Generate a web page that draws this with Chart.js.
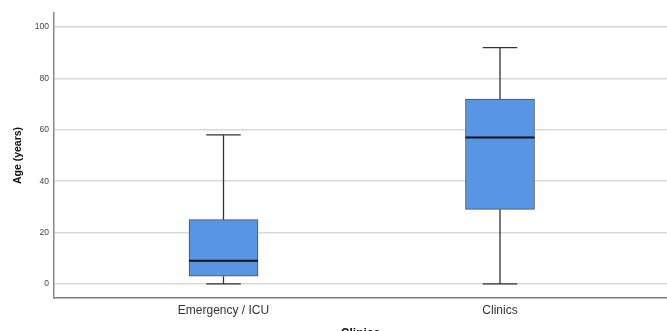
<!DOCTYPE html>
<html>
<head>
<meta charset="utf-8">
<script src="https://cdn.jsdelivr.net/npm/chart.js@4"></script>
<style>
  html, body { margin: 0; padding: 0; background: #fff; overflow: hidden; }
  #wrap { position: relative; width: 667px; height: 343px; }
</style>
</head>
<body>
<div id="wrap"><canvas id="boxChart"></canvas></div>
<script>
// Data
const groups = ["Emergency / ICU", "Clinics"];
const groupPos = [1, 2];
const mins = [0, 0];
const q1s = [3, 29];
const medians = [9, 57];
const q3s = [25, 72];
const maxes = [58, 92];
const yTicks = [0, 20, 40, 60, 80, 100];

// Whiskers and median lines, drawn through the chart's scales
const boxExtras = {
  id: "boxExtras",
  afterDatasetsDraw(chart) {
    const ctx = chart.ctx;
    const xs = chart.scales.x;
    const ys = chart.scales.y;
    const meta = chart.getDatasetMeta(0);
    ctx.save();
    groupPos.forEach((pos, i) => {
      const bar = meta.data[i];
      const cx = xs.getPixelForValue(pos);
      const half = bar.width / 2;
      const cap = bar.width / 4;
      const yMin = ys.getPixelForValue(mins[i]);
      const yQ1 = ys.getPixelForValue(q1s[i]);
      const yMed = ys.getPixelForValue(medians[i]);
      const yQ3 = ys.getPixelForValue(q3s[i]);
      const yMax = ys.getPixelForValue(maxes[i]);

      // whiskers
      ctx.strokeStyle = "#333";
      ctx.lineWidth = 1.3;
      ctx.beginPath();
      ctx.moveTo(cx, yQ3); ctx.lineTo(cx, yMax);
      ctx.moveTo(cx - cap, yMax); ctx.lineTo(cx + cap, yMax);
      ctx.moveTo(cx, yQ1); ctx.lineTo(cx, yMin);
      ctx.moveTo(cx - cap, yMin); ctx.lineTo(cx + cap, yMin);
      ctx.stroke();

      // median
      ctx.strokeStyle = "#111";
      ctx.lineWidth = 2;
      ctx.beginPath();
      ctx.moveTo(cx - half, yMed); ctx.lineTo(cx + half, yMed);
      ctx.stroke();
    });
    ctx.restore();
  }
};

const ctx = document.getElementById("boxChart").getContext("2d");
const boxChart = new Chart(ctx, {
  type: "bar",
  data: {
    datasets: [{
      data: groupPos.map((p, i) => ({ x: p, y: [q1s[i], q3s[i]] })),
      backgroundColor: "#5896e5",
      borderColor: "#4a4f57",
      borderWidth: 1,
      borderSkipped: false,
      barThickness: 69
    }]
  },
  options: {
    responsive: true,
    maintainAspectRatio: false,
    animation: false,
    layout: { padding: { top: 13, right: 0, left: 0, bottom: 0 } },
    plugins: { legend: { display: false }, tooltip: { enabled: false } },
    scales: {
      x: {
        type: "linear",
        offset: false,
        min: 0.387,
        max: 2.604,
        afterBuildTicks: (scale) => { scale.ticks = groupPos.map(v => ({ value: v })); },
        afterFit: (scale) => { scale.height = 45; },
        grid: { display: false, drawTicks: false },
        border: { display: true, color: "#7a7a7a", width: 1.5 },
        ticks: {
          padding: 5,
          color: "#333",
          font: { family: "Liberation Sans, Arial, sans-serif", size: 12 },
          callback: (v) => groups[groupPos.indexOf(v)]
        },
        title: {
          display: true,
          text: "Clinics",
          color: "#111",
          padding: { top: 0, bottom: 2 },
          font: { family: "Liberation Sans, Arial, sans-serif", size: 12, weight: "bold" }
        }
      },
      y: {
        min: -5.5,
        max: 105.5,
        afterBuildTicks: (scale) => { scale.ticks = yTicks.map(v => ({ value: v })); },
        afterFit: (scale) => { scale.width = 54; },
        grid: { color: "#d8d8d8", lineWidth: 1.5, drawTicks: false },
        border: { display: true, color: "#8a8a8a", width: 1.5 },
        ticks: {
          padding: 5,
          color: "#444",
          font: { family: "Liberation Sans, Arial, sans-serif", size: 8.5 }
        },
        title: {
          display: true,
          text: "Age (years)",
          color: "#111",
          padding: { top: 12, bottom: 0 },
          font: { family: "Liberation Sans, Arial, sans-serif", size: 10.5, weight: "bold" }
        }
      }
    }
  },
  plugins: [boxExtras]
});
</script>
</body>
</html>
